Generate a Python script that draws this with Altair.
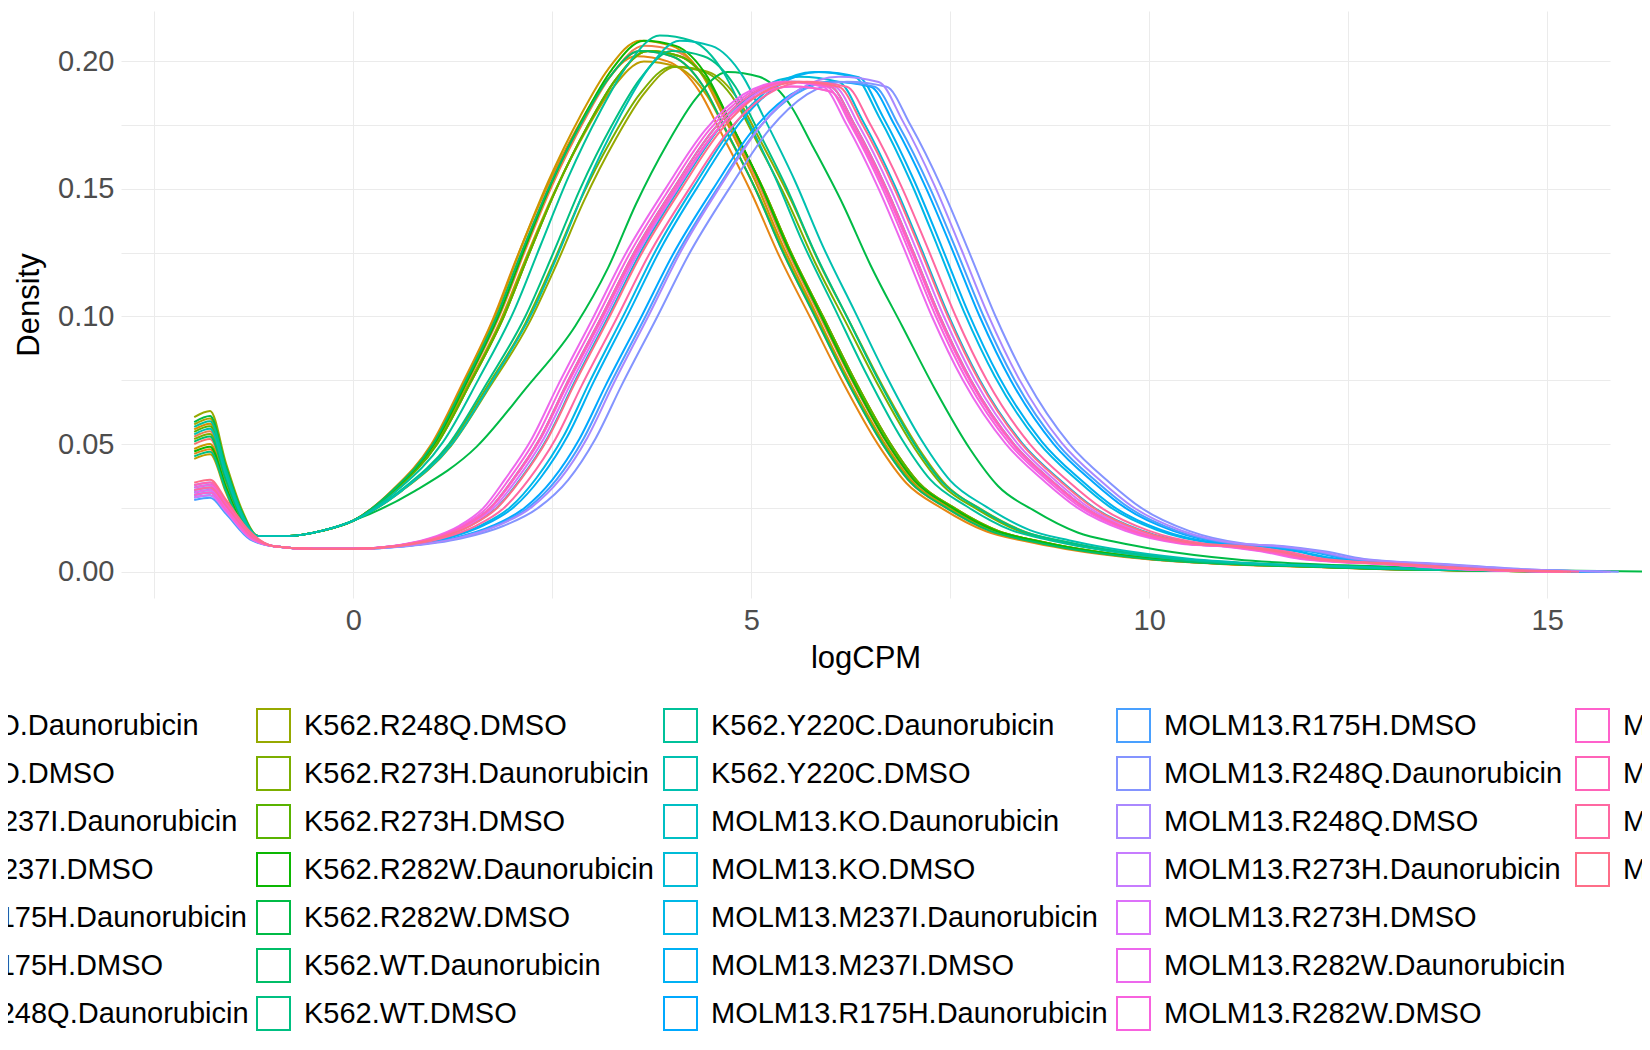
import math
import pandas as pd
import altair as alt

lines = ["K562", "MOLM13"]
mutants = ["KO", "M237I", "R175H", "R248Q", "R273H", "R282W", "WT", "Y220C"]
treatments = ["Daunorubicin", "DMSO"]
samples = [f"{c}.{m}.{t}" for c in lines for m in mutants for t in treatments]

# density profiles (logCPM, density)
k562_x = [-2.0, -1.8, -1.6, -1.4, -1.2, -0.8, -0.4, 0.0, 0.5, 1.0, 1.4, 1.8, 2.1, 2.45, 2.85, 3.2, 3.6,
          4.0, 4.4, 4.65, 5.05, 5.4, 5.8, 6.2, 6.65, 7.0, 7.45, 8.0, 8.5, 9.0, 10.0, 11.0, 12.0, 13.0, 14.0, 15.2]
k562_y = [0.050, 0.052, 0.035, 0.020, 0.014, 0.014, 0.016, 0.020, 0.032, 0.050, 0.074, 0.100, 0.124, 0.150,
          0.175, 0.193, 0.204, 0.202, 0.190, 0.175, 0.150, 0.125, 0.100, 0.075, 0.050, 0.035, 0.025, 0.016,
          0.012, 0.009, 0.005, 0.003, 0.002, 0.001, 0.0005, 0.0]
molm_x = [-2.0, -1.8, -1.6, -1.3, -1.0, -0.5, 0.0, 0.5, 1.0, 1.4, 1.72, 2.0, 2.34, 2.67, 3.12, 3.51, 4.02,
          4.52, 5.0, 5.5, 6.0, 6.3, 6.7, 7.04, 7.37, 7.76, 8.3, 8.8, 9.2, 9.8, 10.5, 11.0, 11.5, 12.0, 13.0, 14.0, 15.2]
molm_y = [0.031, 0.032, 0.025, 0.014, 0.010, 0.009, 0.009, 0.010, 0.013, 0.018, 0.025, 0.036, 0.052, 0.073,
          0.100, 0.124, 0.150, 0.173, 0.187, 0.192, 0.190, 0.175, 0.150, 0.125, 0.100, 0.075, 0.050, 0.035,
          0.025, 0.016, 0.011, 0.010, 0.008, 0.005, 0.003, 0.001, 0.0]

# per-sample peak offset, height factor and low-end spike
peak_shift = [0.0, 0.05, -0.05, 0.1, 0.0, 0.05, 0.1, 0.45, 0.4, 0.1, 0.05, 1.1, 0.0, 0.4, 0.25, 0.5,
              0.0, 0.1, 0.3, 0.35, 0.5, 0.55, 0.7, 0.6, 0.0, 0.05, -0.1, -0.05, 0.0, 0.0, 0.2, 0.1]
peak_height = [1.0, 1.01, 0.99, 1.0, 1.02, 0.98, 1.0, 0.97, 0.97, 1.0, 1.02, 0.96, 1.0, 1.0, 1.03, 1.02,
               1.0, 1.01, 1.02, 1.02, 1.0, 1.0, 1.0, 1.01, 0.99, 1.0, 1.0, 1.0, 0.99, 1.0, 1.0, 1.0]
spike = [0.052, 0.055, 0.048, 0.058, 0.050, 0.046, 0.060, 0.063, 0.054, 0.057, 0.049, 0.061, 0.053, 0.047, 0.059, 0.056,
         0.031, 0.033, 0.030, 0.034, 0.032, 0.029, 0.035, 0.031, 0.033, 0.030, 0.032, 0.034, 0.031, 0.035, 0.033, 0.036]


def hue_colour(h, c=100.0, l=65.0):
    u, v = c * math.cos(math.radians(h)), c * math.sin(math.radians(h))
    xn, yn, zn = 95.047, 100.0, 108.883
    un = 4 * xn / (xn + 15 * yn + 3 * zn)
    vn = 9 * yn / (xn + 15 * yn + 3 * zn)
    Y = yn * ((l + 16) / 116) ** 3
    up, vp = u / (13 * l) + un, v / (13 * l) + vn
    X = 9 * Y * up / (4 * vp)
    Z = Y * (12 - 3 * up - 20 * vp) / (4 * vp)
    X, Y, Z = X / 100, Y / 100, Z / 100
    rgb = [3.2404542 * X - 1.5371385 * Y - 0.4985314 * Z,
           -0.9692660 * X + 1.8760108 * Y + 0.0415560 * Z,
           0.0556434 * X - 0.2040259 * Y + 1.0572252 * Z]
    out = []
    for ch in rgb:
        ch = 12.92 * ch if ch <= 0.0031308 else 1.055 * ch ** (1 / 2.4) - 0.055
        out.append(int(round(min(max(ch, 0), 1) * 255)))
    return "#%02x%02x%02x" % tuple(out)


colours = [hue_colour(15 + 360 * i / 32) for i in range(32)]

rows = []
for i, s in enumerate(samples):
    bx, by = (k562_x, k562_y) if i < 16 else (molm_x, molm_y)
    for x, y in zip(bx, by):
        if x >= 0:
            w = min(1.0, x / 2.0)
            rows.append((s, i, x + peak_shift[i] * w, y * (1 + (peak_height[i] - 1) * w)))
        elif x < -1.2:
            rows.append((s, i, x, y * spike[i] / by[1]))
        else:
            rows.append((s, i, x, y))
df = pd.DataFrame(rows, columns=["sample", "idx", "logCPM", "density"])

xs = alt.Scale(domain=[-2.92, 15.79], nice=False, zero=False)
ys = alt.Scale(domain=[-0.0103, 0.2197], nice=False, zero=False)
x_ticks = [-2.5, 0, 2.5, 5, 7.5, 10, 12.5, 15]
y_ticks = [0, 0.025, 0.05, 0.075, 0.1, 0.125, 0.15, 0.175, 0.2]

col_groups = [range(0, 7), range(7, 14), range(14, 21), range(21, 28), range(28, 32)]
legend_x = [-267, 135, 542, 995, 1454]

layers = []
for g, lx in zip(col_groups, legend_x):
    names = [samples[i] for i in g]
    cols = [colours[i] for i in g]
    layers.append(
        alt.Chart(df[df["sample"].isin(names)]).mark_line(strokeWidth=2, interpolate="monotone").encode(
            x=alt.X("logCPM:Q", scale=xs, title="logCPM",
                    axis=alt.Axis(values=x_ticks, labelExpr="datum.value % 5 == 0 ? datum.label : ''",
                                  grid=True, labelFontSize=29, labelColor="#4d4d4d", labelPadding=8,
                                  titleFontSize=31, titleFontWeight="normal", titlePadding=8,
                                  domain=False, ticks=False, gridColor="#ebebeb")),
            y=alt.Y("density:Q", scale=ys, title="Density",
                    axis=alt.Axis(values=y_ticks, format=".2f",
                                  labelExpr="(round(datum.value * 1000) % 50 == 0) ? datum.label : ''",
                                  grid=True, labelFontSize=29, labelColor="#4d4d4d", labelPadding=7,
                                  titleFontSize=31, titleFontWeight="normal", titlePadding=12,
                                  domain=False, ticks=False, gridColor="#ebebeb")),
            color=alt.Color("sample:N", title=None,
                            scale=alt.Scale(domain=names, range=cols),
                            legend=alt.Legend(orient="none", legendX=lx, legendY=697, columns=1,
                                              symbolType="square", symbolSize=1089, symbolStrokeWidth=2,
                                              symbolFillColor="transparent", labelFontSize=29,
                                              labelColor="black", labelLimit=0, labelOffset=13,
                                              rowPadding=7, padding=0, labelFont="Liberation Sans")),
            detail="sample:N",
        )
    )

chart = alt.layer(*layers).resolve_scale(color="independent").properties(
    width=1489, height=587, autosize=alt.AutoSizeParams(type="none"),
    padding={"left": 113, "top": 3, "right": 32, "bottom": 445},
).configure(font="Liberation Sans").configure_view(stroke=None)

chart.save("out.html", embed_options={"renderer": "svg", "actions": False})
